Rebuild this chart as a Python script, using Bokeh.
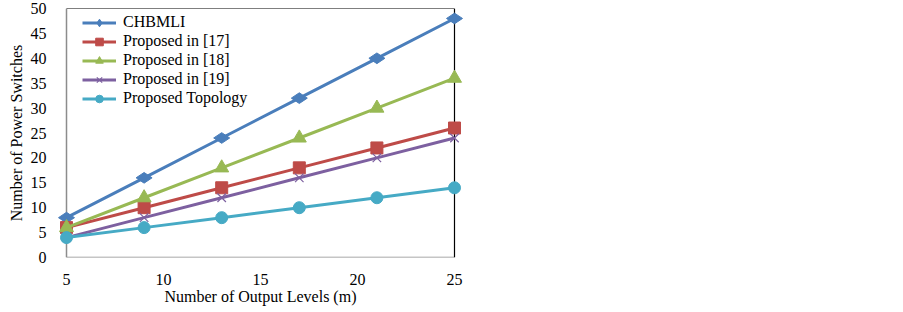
import math
from bokeh.plotting import figure
from bokeh.models import Legend, LegendItem, Range1d
from bokeh.embed import file_html
from bokeh.resources import INLINE

levels = [5, 9, 13, 17, 21, 25]
chbmli = [8, 16, 24, 32, 40, 48]
prop17 = [6, 10, 14, 18, 22, 26]
prop18 = [6, 12, 18, 24, 30, 36]
prop19 = [4, 8, 12, 16, 20, 24]
prop_topo = [4, 6, 8, 10, 12, 14]
x_ticks = [5, 10, 15, 20, 25]
y_ticks = list(range(0, 55, 5))

X_MIN, X_MAX = 5, 25
Y_MIN, Y_MAX = 0, 50

# pixel layout of the drawn box (axis box) and padding so markers are not clipped
BOX_L, BOX_R, BOX_T, BOX_B = 66, 454, 8, 257
PAD_L, PAD_R, PAD_T, PAD_B = 10, 10, 0, 0
W, H = 903, 312

xs = (X_MAX - X_MIN) / (BOX_R - BOX_L)
ys = (Y_MAX - Y_MIN) / (BOX_B - BOX_T)
FRAME_W = (BOX_R + PAD_R) - (BOX_L - PAD_L)
FRAME_H = (BOX_B + PAD_B) - (BOX_T - PAD_T)

p = figure(frame_width=FRAME_W, frame_height=FRAME_H,
           output_backend="svg", toolbar_location=None,
           x_range=Range1d(X_MIN - PAD_L * xs, X_MAX + PAD_R * xs),
           y_range=Range1d(Y_MIN - PAD_B * ys, Y_MAX + PAD_T * ys),
           min_border_left=BOX_L - PAD_L, min_border_right=W - BOX_R - PAD_R,
           min_border_top=BOX_T - PAD_T, min_border_bottom=H - BOX_B - PAD_B)
p.outline_line_color = None
p.grid.visible = False
p.background_fill_color = "white"
p.border_fill_color = "white"

FONT = "Liberation Serif"
for ax in (p.xaxis[0], p.yaxis[0]):
    ax.axis_line_color = None
    ax.major_tick_line_color = None
    ax.minor_tick_line_color = None
    ax.major_label_text_font = FONT
    ax.major_label_text_font_size = "16px"
    ax.major_label_text_color = "black"
    ax.axis_label_text_font = FONT
    ax.axis_label_text_font_size = "16px"
    ax.axis_label_text_font_style = "normal"
    ax.axis_label_text_color = "black"
p.xaxis.ticker = x_ticks
p.yaxis.ticker = y_ticks
p.xaxis.axis_label = "Number of Output Levels (m)"
p.yaxis.axis_label = "Number of Power Switches"
p.xaxis.major_label_standoff = 10
p.xaxis.axis_label_standoff = 0
p.yaxis.major_label_standoff = 4
p.yaxis.axis_label_standoff = 3

# frame box
p.segment(x0=[X_MIN, X_MIN], y0=[Y_MIN, Y_MIN], x1=[X_MIN, X_MAX], y1=[Y_MAX, Y_MIN],
          line_color="#8c8c8c", line_width=1.5)
p.segment(x0=[X_MIN, X_MAX], y0=[Y_MAX, Y_MIN], x1=[X_MAX, X_MAX], y1=[Y_MAX, Y_MAX],
          line_color="black", line_width=1.2)

series = [
    ("CHBMLI", chbmli, "#4A7EBB", "diamond", 16, math.pi / 2),
    ("Proposed in [17]", prop17, "#BE4B48", "square", 12, 0),
    ("Proposed in [18]", prop18, "#98B954", "triangle", 14, 0),
    ("Proposed in [19]", prop19, "#7D60A0", "x", 12, 0),
    ("Proposed Topology", prop_topo, "#46AAC5", "circle", 12, 0),
]

items = []
for name, vals, color, marker, size, ang in series:
    r1 = p.line(levels, vals, line_color=color, line_width=3)
    if marker == "x":
        r2 = p.scatter(levels, vals, marker=marker, size=size, line_color=color, line_width=1.2)
    else:
        r2 = p.scatter(levels, vals, marker=marker, size=size, angle=ang,
                       fill_color=color, line_color=color)
    items.append(LegendItem(label=name, renderers=[r1, r2]))

item_h = 19
n = len(items)
top_from_frame = 22 - (BOX_T - PAD_T) - item_h / 2
legend = Legend(items=items, location=(82 - (BOX_L - PAD_L), FRAME_H - top_from_frame - n * item_h),
                glyph_width=34, glyph_height=item_h, label_height=item_h, spacing=0,
                padding=0, margin=0, label_standoff=7,
                label_text_font=FONT, label_text_font_size="16px", label_text_color="black",
                background_fill_alpha=0, border_line_color=None)
p.add_layout(legend)

open("out.html", "w").write(file_html(p, INLINE))
